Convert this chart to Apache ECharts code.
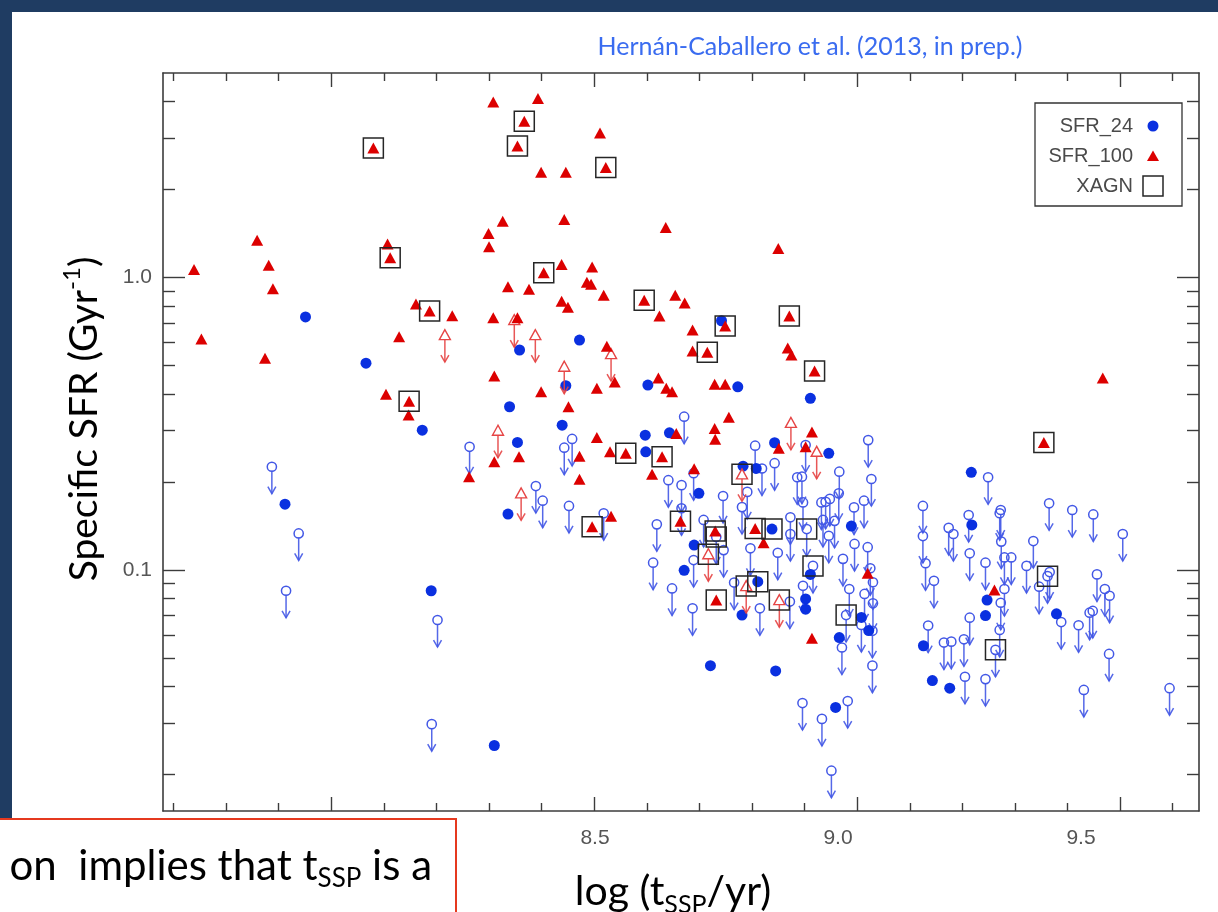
<!DOCTYPE html>
<html>
<head>
<meta charset="utf-8">
<script src="https://cdn.jsdelivr.net/npm/echarts@6/dist/echarts.min.js"></script>
<style>
  html, body { margin: 0; padding: 0; background: #ffffff; }
  #chart { width: 1218px; height: 912px; }
</style>
</head>
<body>
<div id="chart"></div>
<script>
// Each point: [log(t_SSP / yr), log10(specific SFR / Gyr^-1)]

// SFR from 24 micron, detections
const sfr24Det = [
  [7.951,-0.135],[8.066,-0.293],[8.173,-0.522],[7.912,-0.775],[8.190,-1.071],[8.358,-0.248],
  [8.472,-0.214],[8.446,-0.370],[8.339,-0.442],[8.439,-0.505],[8.354,-0.564],[8.336,-0.809],
  [8.602,-0.368],[8.773,-0.374],[8.597,-0.539],[8.643,-0.531],[8.843,-0.565],[8.598,-0.596],
  [8.808,-0.653],[8.699,-0.738],[8.690,-0.915],[8.671,-1.001],[8.742,-0.148],[8.911,-0.413],
  [8.946,-0.601],[8.989,-0.850],[8.911,-1.015],[8.902,-1.099],[8.902,-1.134],[9.217,-0.666],
  [9.218,-0.846],[9.247,-1.103],[9.244,-1.156],[9.379,-1.150],[8.310,-1.600],[8.781,-1.154],
  [9.008,-1.162],[9.022,-1.207],[8.966,-1.231],[8.721,-1.327],[8.845,-1.345],[8.959,-1.470],
  [9.126,-1.259],[9.143,-1.378],[9.176,-1.404],[8.783,-0.645]
];
// SFR from 24 micron, detections in X-ray AGN
const sfr24DetX = [[8.838,-0.860],[8.811,-1.040]];

// SFR from 24 micron, upper limits
const sfr24Lim = [
  [7.887,-0.647],[7.938,-0.875],[7.914,-1.071],[8.202,-1.171],[8.191,-1.527],[8.263,-0.579],
  [8.443,-0.582],[8.458,-0.552],[8.389,-0.713],[8.402,-0.763],[8.452,-0.781],[8.518,-0.806],
  [8.671,-0.476],[8.806,-0.575],[8.819,-0.653],[8.843,-0.635],[8.641,-0.693],[8.666,-0.710],
  [8.689,-0.669],[8.886,-0.683],[8.745,-0.747],[8.791,-0.733],[8.781,-0.785],[8.666,-0.789],
  [8.619,-0.844],[8.708,-0.829],[8.873,-0.820],[8.873,-0.877],[8.746,-0.932],[8.797,-0.926],
  [8.849,-0.941],[8.612,-0.975],[8.689,-0.966],[8.766,-1.043],[8.648,-1.063],[8.687,-1.131],
  [8.815,-1.131],[8.872,-1.108],[8.902,-0.573],[9.021,-0.556],[8.966,-0.664],[9.027,-0.689],
  [8.895,-0.681],[8.897,-0.769],[8.932,-0.769],[8.940,-0.767],[8.948,-0.757],[8.965,-0.738],
  [8.994,-0.786],[9.013,-0.763],[8.935,-0.829],[8.957,-0.832],[8.946,-0.883],[8.995,-0.911],
  [9.020,-0.922],[8.973,-0.962],[9.025,-0.994],[9.030,-1.042],[8.985,-1.065],[9.014,-1.082],
  [8.897,-1.054],[9.125,-0.781],[9.125,-0.884],[9.174,-0.856],[9.183,-0.877],[9.130,-0.977],
  [9.146,-1.037],[9.212,-0.812],[9.214,-0.943],[9.008,-1.188],[9.029,-1.208],[8.971,-1.265],
  [9.029,-1.327],[9.030,-1.114],[8.896,-1.455],[8.933,-1.509],[8.982,-1.448],[8.951,-1.686],
  [9.135,-1.190],[9.165,-1.248],[9.179,-1.245],[9.203,-1.237],[9.214,-1.163],[9.205,-1.365],
  [9.249,-0.683],[9.273,-0.795],[9.271,-0.806],[9.274,-0.903],[9.244,-0.975],[9.280,-0.957],
  [9.293,-0.957],[9.335,-0.901],[9.322,-0.986],[9.346,-1.057],[9.365,-0.772],[9.409,-0.795],
  [9.449,-0.810],[9.505,-0.877],[9.456,-1.015],[9.471,-1.065],[9.480,-1.088],[9.280,-1.065],
  [9.273,-1.112],[9.271,-1.205],[9.244,-1.373],[9.388,-1.178],[9.421,-1.189],[9.442,-1.146],
  [9.448,-1.140],[9.479,-1.287],[9.431,-1.410],[9.594,-1.404],[9.366,-1.007]
];
// SFR from 24 micron, upper limits in X-ray AGN
const sfr24LimX = [[8.904,-0.860],[8.916,-0.986],[8.979,-1.154],[9.362,-1.021],[9.263,-1.273],[8.732,-0.887]];

// SFR from 100 micron, detections
const sfr100Det = [
  [7.739,0.027],[7.753,-0.210],[7.859,0.127],[7.881,0.042],[7.889,-0.039],[7.874,-0.276],
  [8.107,0.114],[8.161,-0.091],[8.129,-0.203],[8.104,-0.399],[8.147,-0.470],[8.308,0.600],
  [8.393,0.612],[8.511,0.494],[8.399,0.360],[8.446,0.360],[8.326,0.192],[8.443,0.198],
  [8.636,0.171],[8.299,0.150],[8.300,0.105],[8.438,0.044],[8.496,0.036],[8.336,-0.032],
  [8.376,-0.040],[8.486,-0.016],[8.494,-0.023],[8.518,-0.061],[8.654,-0.061],[8.672,-0.087],
  [8.438,-0.081],[8.450,-0.102],[8.624,-0.132],[8.230,-0.131],[8.308,-0.138],[8.354,-0.138],
  [8.524,-0.235],[8.687,-0.180],[8.687,-0.251],[8.310,-0.337],[8.622,-0.344],[8.850,0.099],
  [8.868,-0.241],[8.875,-0.265],[9.467,-0.344],[8.399,-0.391],[8.505,-0.379],[8.539,-0.357],
  [8.451,-0.442],[8.505,-0.547],[8.530,-0.596],[8.262,-0.681],[8.310,-0.630],[8.357,-0.613],
  [8.472,-0.611],[8.472,-0.690],[8.532,-0.816],[8.637,-0.379],[8.648,-0.391],[8.729,-0.365],
  [8.749,-0.365],[8.756,-0.478],[8.656,-0.533],[8.729,-0.516],[8.730,-0.553],[8.851,-0.584],
  [8.610,-0.673],[8.690,-0.654],[8.822,-0.907],[8.914,-0.528],[8.902,-0.579],[9.020,-1.011],
  [9.261,-1.068],[8.914,-1.233]
];
// SFR from 100 micron, detections in X-ray AGN
const sfr100DetX = [
  [8.080,0.443],[8.112,0.067],[8.187,-0.115],[8.148,-0.423],[8.367,0.534],[8.354,0.449],
  [8.522,0.376],[8.404,0.016],[8.595,-0.078],[8.871,-0.132],[8.749,-0.166],[8.715,-0.256],
  [8.919,-0.320],[9.355,-0.564],[8.496,-0.852],[8.560,-0.601],[8.629,-0.613],[8.664,-0.833],
  [8.730,-0.867],[8.806,-0.858],[8.732,-1.103]
];
// SFR from 100 micron, upper limits
const sfr100Lim = [
  [8.348,-0.146],[8.216,-0.197],[8.388,-0.197],[8.532,-0.262],[8.443,-0.305],[8.317,-0.524],
  [8.361,-0.738],[8.874,-0.497],[8.923,-0.596]
];
// SFR from 100 micron, upper limits in X-ray AGN
const sfr100LimX = [[8.781,-0.673],[8.717,-0.946],[8.789,-1.055],[8.852,-1.103]];

// Axis ticks
const xMajorTicks = [8.0, 8.5, 9.0, 9.5];
const xMinorTicks = [7.7, 7.8, 7.9, 8.1, 8.2, 8.3, 8.4, 8.6, 8.7, 8.8, 8.9, 9.1, 9.2, 9.3, 9.4, 9.6];
const xTickLabels = [8.0, 8.5, 9.0, 9.5];
const yMajorTicks = [0.1, 1.0];
const yMinorTicks = [0.02, 0.03, 0.04, 0.05, 0.06, 0.07, 0.08, 0.09,
                     0.2, 0.3, 0.4, 0.5, 0.6, 0.7, 0.8, 0.9, 2, 3, 4];
const yTickLabels = [0.1, 1.0];
const legendNames = ['SFR_24', 'SFR_100', 'XAGN'];

const C_BLUE = '#0a30e0';
const C_BLUE_LIM = '#4358e6';
const C_RED = '#dc0000';
const C_RED_LIM = '#e64545';
const C_AXIS = '#3c3c3c';
const LABEL_FONT = 'Liberation Sans';
const TEXT_FONT = 'Lato';

const XMIN = 7.68, XMAX = 9.65;
const YMIN = Math.log10(0.015), YMAX = Math.log10(5);
const lg = v => Math.log10(v);

function xFrame(position, ticks, len, showLine) {
  return {
    type: 'value', gridIndex: 0, position: position, min: XMIN, max: XMAX,
    axisLine: { show: showLine, onZero: false, lineStyle: { color: C_AXIS, width: 1.6 } },
    axisTick: { show: true, inside: true, length: len, customValues: ticks,
                lineStyle: { color: C_AXIS, width: 1.4 } },
    axisLabel: { show: false }, splitLine: { show: false }
  };
}
function yFrame(position, ticks, len, showLine) {
  return {
    type: 'value', gridIndex: 0, position: position, min: YMIN, max: YMAX,
    axisLine: { show: showLine, onZero: false, lineStyle: { color: C_AXIS, width: 1.6 } },
    axisTick: { show: true, inside: true, length: len, customValues: ticks.map(lg),
                lineStyle: { color: C_AXIS, width: 1.4 } },
    axisLabel: { show: false }, splitLine: { show: false }
  };
}

// Upper limit: marker with a downward arrow
function limitRenderer(color, markerFn) {
  return function (params, api) {
    const p = api.coord([api.value(0), api.value(1)]);
    const len = 27, hw = 4, hh = 7;
    return {
      type: 'group',
      children: [
        { type: 'line', shape: { x1: p[0], y1: p[1] + 4, x2: p[0], y2: p[1] + len },
          style: { stroke: color, lineWidth: 1.5, opacity: 0.9 } },
        { type: 'polyline',
          shape: { points: [[p[0] - hw, p[1] + len - hh], [p[0], p[1] + len], [p[0] + hw, p[1] + len - hh]] },
          style: { stroke: color, lineWidth: 1.5, fill: 'none', opacity: 0.9 } },
        markerFn(p)
      ]
    };
  };
}
const openCircle = p => ({ type: 'circle', shape: { cx: p[0], cy: p[1], r: 4.6 },
  style: { stroke: C_BLUE_LIM, lineWidth: 1.5, fill: 'none' } });
const openTriangle = p => ({ type: 'polygon',
  shape: { points: [[p[0], p[1] - 5.5], [p[0] - 5.5, p[1] + 4.5], [p[0] + 5.5, p[1] + 4.5]] },
  style: { stroke: C_RED_LIM, lineWidth: 1.4, fill: '#ffffff' } });

const chart = echarts.init(document.getElementById('chart'), null, { renderer: 'canvas' });

function nameRich(size) {
  const small = Math.round(size * 0.62);
  return {
    n: { fontSize: size, fontFamily: TEXT_FONT, fill: '#000', lineHeight: size + 9 },
    sup: { fontSize: small, fontFamily: TEXT_FONT, fill: '#000', verticalAlign: 'top', lineHeight: size + 9 },
    sub: { fontSize: small, fontFamily: TEXT_FONT, fill: '#000', verticalAlign: 'bottom', lineHeight: size + 5 }
  };
}

const option = {
  animation: false,
  backgroundColor: '#ffffff',
  grid: { left: 163, right: 19, top: 73, bottom: 101, containLabel: false, outerBoundsMode: 'none' },
  xAxis: [
    xFrame('bottom', xMajorTicks, 14, true),
    xFrame('bottom', xMinorTicks, 8, false),
    xFrame('top', xMajorTicks, 14, true),
    xFrame('top', xMinorTicks, 8, false),
    {
      // tick labels
      type: 'value', gridIndex: 0, position: 'bottom', min: 7.6111, max: 9.7428,
      axisLine: { show: false, onZero: false }, axisTick: { show: false }, splitLine: { show: false },
      axisLabel: { customValues: xTickLabels, formatter: v => v.toFixed(1), margin: 17,
                   color: '#555555', fontSize: 21, fontFamily: LABEL_FONT }
    }
  ],
  yAxis: [
    Object.assign(yFrame('left', yMajorTicks, 22, true), {
      axisLabel: { show: true, customValues: yTickLabels.map(lg),
                   formatter: v => Math.pow(10, v).toFixed(1), margin: 11,
                   color: '#555555', fontSize: 21, fontFamily: LABEL_FONT }
    }),
    yFrame('left', yMinorTicks, 12, false),
    yFrame('right', yMajorTicks, 22, true),
    yFrame('right', yMinorTicks, 12, false)
  ],
  series: [
    { name: 'SFR_24 limit', type: 'custom', coordinateSystem: 'cartesian2d', xAxisIndex: 0, yAxisIndex: 0,
      renderItem: limitRenderer(C_BLUE_LIM, openCircle), data: sfr24Lim.concat(sfr24LimX), z: 2 },
    { name: 'SFR_24', type: 'scatter', xAxisIndex: 0, yAxisIndex: 0, symbol: 'circle', symbolSize: 11,
      itemStyle: { color: C_BLUE, opacity: 1 }, data: sfr24Det.concat(sfr24DetX), z: 3 },
    { name: 'SFR_100 limit', type: 'custom', coordinateSystem: 'cartesian2d', xAxisIndex: 0, yAxisIndex: 0,
      renderItem: limitRenderer(C_RED_LIM, openTriangle), data: sfr100Lim.concat(sfr100LimX), z: 4 },
    { name: 'SFR_100', type: 'scatter', xAxisIndex: 0, yAxisIndex: 0, symbol: 'triangle', symbolSize: [12, 11],
      itemStyle: { color: C_RED, opacity: 1 }, data: sfr100Det.concat(sfr100DetX), z: 5 },
    { name: 'XAGN', type: 'scatter', xAxisIndex: 0, yAxisIndex: 0, symbol: 'rect', symbolSize: 20,
      itemStyle: { color: 'rgba(0,0,0,0)', borderColor: '#262626', borderWidth: 1.5, opacity: 1 },
      data: sfr24DetX.concat(sfr24LimX, sfr100DetX, sfr100LimX), z: 6 }
  ],
  graphic: [
    // slide frame
    { type: 'rect', z: 50, shape: { x: 0, y: 0, width: 1218, height: 12 }, style: { fill: '#1f3c62' } },
    { type: 'rect', z: 50, shape: { x: 0, y: 0, width: 12, height: 912 }, style: { fill: '#1f3c62' } },
    // title
    { type: 'text', x: 810, y: 47, z: 50,
      style: { text: 'Hernán-Caballero et al. (2013, in prep.)', fill: '#3a6cf0',
               font: '25px ' + TEXT_FONT, align: 'center', verticalAlign: 'middle' } },
    // y axis name
    { type: 'text', x: 84, y: 419, rotation: Math.PI / 2, z: 50,
      style: { text: '{n|Specific SFR (Gyr}{sup|-1}{n|)}', align: 'center', verticalAlign: 'middle',
               rich: nameRich(39) } },
    // x axis name
    { type: 'text', x: 673, y: 892, z: 50,
      style: { text: '{n|log (t}{sub|SSP}{n|/yr)}', align: 'center', verticalAlign: 'middle',
               rich: nameRich(41) } },
    // legend
    { type: 'rect', z: 60, shape: { x: 1035, y: 103, width: 147, height: 103 },
      style: { fill: '#ffffff', stroke: '#333333', lineWidth: 1.3 } },
    { type: 'text', z: 61, x: 1133, y: 126, style: { text: legendNames[0], fill: '#4a4a4a',
      font: '20px ' + LABEL_FONT, align: 'right', verticalAlign: 'middle' } },
    { type: 'text', z: 61, x: 1133, y: 156, style: { text: legendNames[1], fill: '#4a4a4a',
      font: '20px ' + LABEL_FONT, align: 'right', verticalAlign: 'middle' } },
    { type: 'text', z: 61, x: 1133, y: 186, style: { text: legendNames[2], fill: '#4a4a4a',
      font: '20px ' + LABEL_FONT, align: 'right', verticalAlign: 'middle' } },
    { type: 'circle', z: 61, shape: { cx: 1153, cy: 126, r: 5.5 }, style: { fill: C_BLUE } },
    { type: 'polygon', z: 61, shape: { points: [[1153, 150.5], [1147, 161], [1159, 161]] }, style: { fill: C_RED } },
    { type: 'rect', z: 61, shape: { x: 1143, y: 176, width: 20, height: 20 },
      style: { fill: 'none', stroke: '#262626', lineWidth: 1.5 } },
    // text box overlapping the lower-left corner
    { type: 'rect', z: 100, shape: { x: -4, y: 819, width: 460, height: 100 },
      style: { fill: '#ffffff', stroke: '#e5391f', lineWidth: 2 } },
    { type: 'text', z: 101, x: 432, y: 866,
      style: { text: '{n|on  implies that t}{sub|SSP}{n| is a}', align: 'right', verticalAlign: 'middle',
               rich: nameRich(42) } }
  ]
};
chart.setOption(option);
</script>
</body>
</html>
